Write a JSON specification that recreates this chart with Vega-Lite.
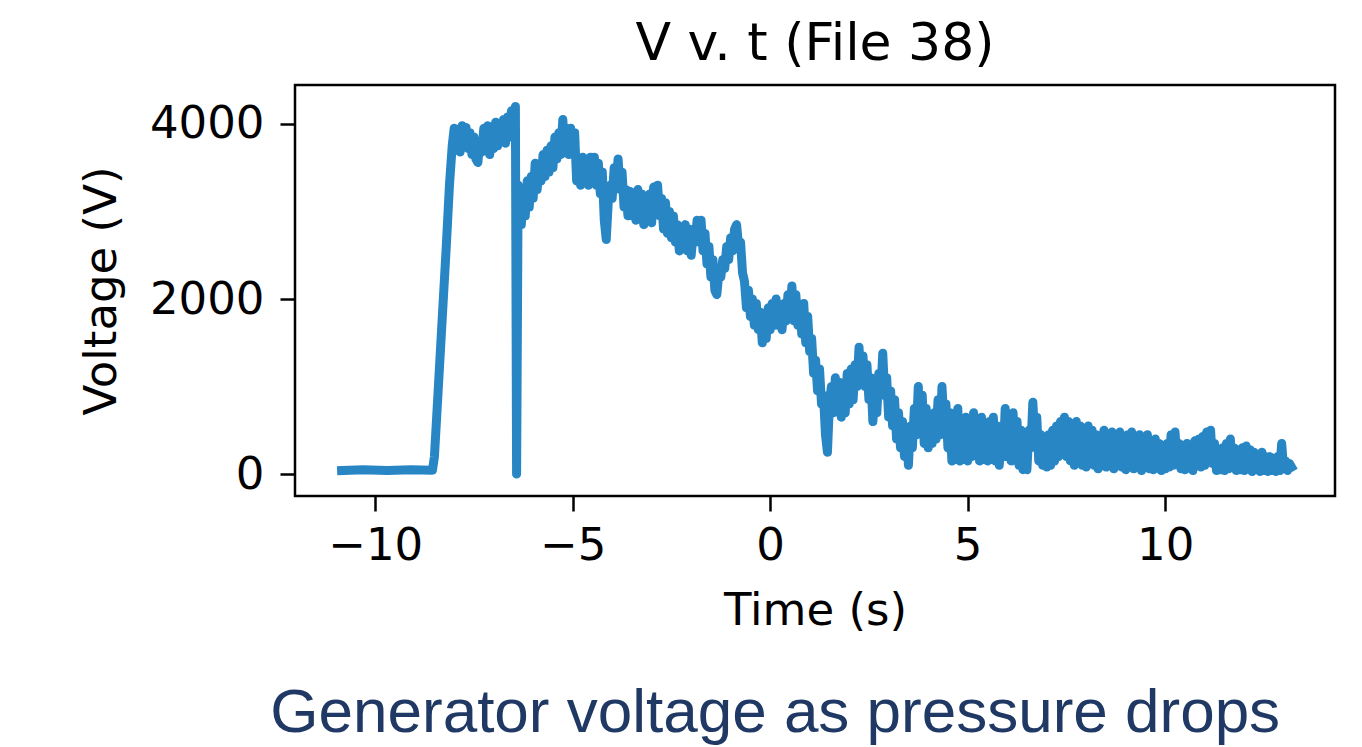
{
  "$schema": "https://vega.github.io/schema/vega-lite/v6.json",
  "background": "white",
  "padding": {"left": 78, "top": 16, "right": 0, "bottom": 0},
  "title": {"text": "Generator voltage as pressure drops", "orient": "bottom", "anchor": "middle", "frame": "bounds", "font": "Liberation Sans", "fontSize": 62, "fontWeight": "normal", "color": "#1F3864", "offset": 49, "dx": 68},
  "vconcat": [
    {
      "title": {"text": "V v. t (File 38)", "font": "DejaVu Sans", "fontSize": 52, "fontWeight": "normal", "color": "black", "offset": 14},
      "width": 1040,
      "height": 411,
      "data": {"values": [
        {"t":-10.85,"v":40},{"t":-10.3,"v":50},{"t":-9.7,"v":40},{"t":-9.1,"v":50},{"t":-8.55,"v":45},
        {"t":-8.5,"v":200},{"t":-8.4,"v":1000},{"t":-8.3,"v":1800},{"t":-8.2,"v":2600},{"t":-8.12,"v":3300},{"t":-8.05,"v":3750},
        {"t":-8.0,"v":3950},{"t":-7.95,"v":3700},{"t":-7.9,"v":3900},{"t":-7.85,"v":3680},{"t":-7.8,"v":3980},{"t":-7.75,"v":3750},{"t":-7.7,"v":3960},{"t":-7.65,"v":3720},{"t":-7.6,"v":3900},{"t":-7.55,"v":3650},{"t":-7.5,"v":3850},{"t":-7.45,"v":3600},{"t":-7.4,"v":3560},{"t":-7.35,"v":3800},{"t":-7.3,"v":3680},{"t":-7.25,"v":3950},{"t":-7.2,"v":3700},{"t":-7.15,"v":3980},{"t":-7.1,"v":3650},{"t":-7.05,"v":3870},{"t":-7.0,"v":3720},{"t":-6.95,"v":4020},{"t":-6.9,"v":3750},{"t":-6.85,"v":4000},{"t":-6.8,"v":3800},{"t":-6.75,"v":4050},{"t":-6.7,"v":3780},{"t":-6.65,"v":4080},{"t":-6.6,"v":3850},{"t":-6.55,"v":4150},{"t":-6.5,"v":3900},{"t":-6.45,"v":4200},
        {"t":-6.42,"v":0},{"t":-6.38,"v":3300},
        {"t":-6.3,"v":2850},{"t":-6.25,"v":3250},{"t":-6.2,"v":2950},{"t":-6.15,"v":3350},{"t":-6.1,"v":3050},{"t":-6.05,"v":3400},{"t":-6.0,"v":3150},{"t":-5.95,"v":3550},{"t":-5.9,"v":3250},{"t":-5.85,"v":3500},{"t":-5.8,"v":3350},{"t":-5.75,"v":3650},{"t":-5.7,"v":3400},{"t":-5.65,"v":3700},{"t":-5.6,"v":3450},{"t":-5.55,"v":3750},{"t":-5.5,"v":3500},{"t":-5.45,"v":3850},{"t":-5.4,"v":3600},{"t":-5.35,"v":3900},{"t":-5.3,"v":3650},{"t":-5.25,"v":4050},{"t":-5.2,"v":3700},{"t":-5.15,"v":3950},{"t":-5.1,"v":3650},{"t":-5.05,"v":3950},{"t":-5.0,"v":3700},{"t":-4.95,"v":3900},
        {"t":-4.9,"v":3350},{"t":-4.85,"v":3600},{"t":-4.8,"v":3300},{"t":-4.75,"v":3620},{"t":-4.7,"v":3350},{"t":-4.65,"v":3600},{"t":-4.6,"v":3300},{"t":-4.55,"v":3620},{"t":-4.5,"v":3350},{"t":-4.45,"v":3620},{"t":-4.4,"v":3300},{"t":-4.35,"v":3550},{"t":-4.3,"v":3200},{"t":-4.25,"v":3450},{"t":-4.2,"v":2900},{"t":-4.15,"v":2680},{"t":-4.1,"v":3100},{"t":-4.05,"v":3300},{"t":-4.0,"v":3150},{"t":-3.95,"v":3500},{"t":-3.9,"v":3350},{"t":-3.85,"v":3600},{"t":-3.8,"v":3250},{"t":-3.75,"v":3450},{"t":-3.7,"v":3050},{"t":-3.65,"v":3250},{"t":-3.6,"v":2950},{"t":-3.55,"v":3230},{"t":-3.5,"v":2950},{"t":-3.45,"v":3200},{"t":-3.4,"v":2900},{"t":-3.35,"v":3250},{"t":-3.3,"v":2950},{"t":-3.25,"v":3200},{"t":-3.2,"v":2850},{"t":-3.15,"v":3150},{"t":-3.1,"v":2900},{"t":-3.05,"v":3200},{"t":-3.0,"v":2870},{"t":-2.95,"v":3280},{"t":-2.9,"v":3000},{"t":-2.85,"v":3300},{"t":-2.8,"v":2950},{"t":-2.75,"v":3150},{"t":-2.7,"v":2800},{"t":-2.65,"v":3100},{"t":-2.6,"v":2750},{"t":-2.55,"v":3000},{"t":-2.5,"v":2700},{"t":-2.45,"v":2950},{"t":-2.4,"v":2650},{"t":-2.35,"v":2850},{"t":-2.3,"v":2550},{"t":-2.25,"v":2800},{"t":-2.2,"v":2600},{"t":-2.15,"v":2850},{"t":-2.1,"v":2550},{"t":-2.05,"v":2800},{"t":-2.0,"v":2500},{"t":-1.95,"v":2750},{"t":-1.9,"v":2650},{"t":-1.85,"v":2900},{"t":-1.8,"v":2650},{"t":-1.75,"v":2900},{"t":-1.7,"v":2550},{"t":-1.65,"v":2750},{"t":-1.6,"v":2400},{"t":-1.55,"v":2600},{"t":-1.5,"v":2250},{"t":-1.45,"v":2450},{"t":-1.4,"v":2100},{"t":-1.35,"v":2050},{"t":-1.3,"v":2300},{"t":-1.25,"v":2250},{"t":-1.2,"v":2450},{"t":-1.15,"v":2350},{"t":-1.1,"v":2600},{"t":-1.05,"v":2450},{"t":-1.0,"v":2700},{"t":-0.95,"v":2550},{"t":-0.9,"v":2800},{"t":-0.85,"v":2850},{"t":-0.8,"v":2600},{"t":-0.75,"v":2650},{"t":-0.7,"v":2300},{"t":-0.65,"v":2200},{"t":-0.6,"v":1900},{"t":-0.55,"v":2100},{"t":-0.5,"v":1800},{"t":-0.45,"v":2000},{"t":-0.4,"v":1700},{"t":-0.35,"v":1950},{"t":-0.3,"v":1650},{"t":-0.25,"v":1850},{"t":-0.2,"v":1500},{"t":-0.15,"v":1800},{"t":-0.1,"v":1550},{"t":-0.05,"v":1900},
        {"t":0.0,"v":1650},{"t":0.05,"v":1950},{"t":0.1,"v":1700},{"t":0.15,"v":2000},{"t":0.2,"v":1700},{"t":0.25,"v":1900},{"t":0.3,"v":1650},{"t":0.35,"v":1950},{"t":0.4,"v":1750},{"t":0.45,"v":2050},{"t":0.5,"v":1800},{"t":0.55,"v":2150},{"t":0.6,"v":1750},{"t":0.65,"v":2050},{"t":0.7,"v":1700},{"t":0.75,"v":1900},{"t":0.8,"v":1600},{"t":0.85,"v":1950},{"t":0.9,"v":1500},{"t":0.95,"v":1800},{"t":1.0,"v":1400},{"t":1.05,"v":1550},{"t":1.1,"v":1150},{"t":1.15,"v":1300},{"t":1.2,"v":950},{"t":1.25,"v":1200},{"t":1.3,"v":800},{"t":1.35,"v":900},{"t":1.4,"v":450},{"t":1.45,"v":250},{"t":1.5,"v":800},{"t":1.55,"v":1000},{"t":1.6,"v":700},{"t":1.65,"v":1100},{"t":1.7,"v":750},{"t":1.75,"v":1050},{"t":1.8,"v":650},{"t":1.85,"v":1000},{"t":1.9,"v":700},{"t":1.95,"v":1150},{"t":2.0,"v":800},{"t":2.05,"v":1200},{"t":2.1,"v":850},{"t":2.15,"v":1250},{"t":2.2,"v":1000},{"t":2.25,"v":1450},{"t":2.3,"v":1050},{"t":2.35,"v":1350},{"t":2.4,"v":1000},{"t":2.45,"v":1250},{"t":2.5,"v":850},{"t":2.55,"v":1100},{"t":2.6,"v":600},{"t":2.65,"v":900},{"t":2.7,"v":700},{"t":2.75,"v":1150},{"t":2.8,"v":900},{"t":2.85,"v":1380},{"t":2.9,"v":900},{"t":2.95,"v":1100},{"t":3.0,"v":650},{"t":3.05,"v":950},{"t":3.1,"v":550},{"t":3.15,"v":850},{"t":3.2,"v":400},{"t":3.25,"v":700},{"t":3.3,"v":300},{"t":3.35,"v":600},{"t":3.4,"v":200},{"t":3.45,"v":500},{"t":3.5,"v":100},{"t":3.55,"v":550},{"t":3.6,"v":300},{"t":3.65,"v":750},{"t":3.7,"v":450},{"t":3.75,"v":1000},{"t":3.8,"v":500},{"t":3.85,"v":900},{"t":3.9,"v":350},{"t":3.95,"v":750},
        {"t":4.0,"v":300},{"t":4.05,"v":650},{"t":4.1,"v":350},{"t":4.15,"v":700},{"t":4.2,"v":400},{"t":4.25,"v":850},{"t":4.3,"v":450},{"t":4.35,"v":1000},{"t":4.4,"v":550},{"t":4.45,"v":800},{"t":4.5,"v":300},{"t":4.55,"v":700},{"t":4.6,"v":150},{"t":4.65,"v":600},{"t":4.7,"v":200},{"t":4.75,"v":750},{"t":4.8,"v":150},{"t":4.85,"v":550},{"t":4.9,"v":200},{"t":4.95,"v":650},{"t":5.0,"v":150},{"t":5.05,"v":500},{"t":5.1,"v":200},{"t":5.15,"v":700},{"t":5.2,"v":250},{"t":5.25,"v":600},{"t":5.3,"v":150},{"t":5.35,"v":650},{"t":5.4,"v":200},{"t":5.45,"v":550},{"t":5.5,"v":150},{"t":5.55,"v":600},{"t":5.6,"v":250},{"t":5.65,"v":650},{"t":5.7,"v":150},{"t":5.75,"v":550},{"t":5.8,"v":100},{"t":5.85,"v":500},{"t":5.9,"v":200},{"t":5.95,"v":750},
        {"t":6.0,"v":200},{"t":6.05,"v":600},{"t":6.1,"v":150},{"t":6.15,"v":700},{"t":6.2,"v":250},{"t":6.25,"v":600},{"t":6.3,"v":100},{"t":6.35,"v":500},{"t":6.4,"v":50},{"t":6.45,"v":400},{"t":6.5,"v":50},{"t":6.55,"v":500},{"t":6.6,"v":300},{"t":6.65,"v":820},{"t":6.7,"v":400},{"t":6.75,"v":650},{"t":6.8,"v":150},{"t":6.85,"v":450},{"t":6.9,"v":100},{"t":6.95,"v":350},{"t":7.0,"v":80},{"t":7.05,"v":450},{"t":7.1,"v":100},{"t":7.15,"v":500},{"t":7.2,"v":150},{"t":7.25,"v":550},{"t":7.3,"v":200},{"t":7.35,"v":600},{"t":7.4,"v":250},{"t":7.45,"v":650},{"t":7.5,"v":200},{"t":7.55,"v":600},{"t":7.6,"v":150},{"t":7.65,"v":550},{"t":7.7,"v":100},{"t":7.75,"v":600},{"t":7.8,"v":150},{"t":7.85,"v":550},{"t":7.9,"v":100},{"t":7.95,"v":500},
        {"t":8.0,"v":80},{"t":8.05,"v":550},{"t":8.1,"v":150},{"t":8.15,"v":500},{"t":8.2,"v":100},{"t":8.25,"v":450},{"t":8.3,"v":60},{"t":8.35,"v":400},{"t":8.4,"v":100},{"t":8.45,"v":500},{"t":8.5,"v":80},{"t":8.55,"v":450},{"t":8.6,"v":100},{"t":8.65,"v":480},{"t":8.7,"v":60},{"t":8.75,"v":450},{"t":8.8,"v":100},{"t":8.85,"v":480},{"t":8.9,"v":80},{"t":8.95,"v":420},{"t":9.0,"v":50},{"t":9.05,"v":450},{"t":9.1,"v":100},{"t":9.15,"v":480},{"t":9.2,"v":60},{"t":9.25,"v":400},{"t":9.3,"v":80},{"t":9.35,"v":450},{"t":9.4,"v":40},{"t":9.45,"v":400},{"t":9.5,"v":80},{"t":9.55,"v":450},{"t":9.6,"v":60},{"t":9.65,"v":350},{"t":9.7,"v":50},{"t":9.75,"v":400},{"t":9.8,"v":80},{"t":9.85,"v":350},{"t":9.9,"v":40},{"t":9.95,"v":300},
        {"t":10.0,"v":60},{"t":10.05,"v":350},{"t":10.1,"v":80},{"t":10.15,"v":450},{"t":10.2,"v":100},{"t":10.25,"v":480},{"t":10.3,"v":150},{"t":10.35,"v":350},{"t":10.4,"v":60},{"t":10.45,"v":300},{"t":10.5,"v":50},{"t":10.55,"v":350},{"t":10.6,"v":80},{"t":10.65,"v":320},{"t":10.7,"v":40},{"t":10.75,"v":380},{"t":10.8,"v":100},{"t":10.85,"v":400},{"t":10.9,"v":80},{"t":10.95,"v":430},{"t":11.0,"v":100},{"t":11.05,"v":480},{"t":11.1,"v":150},{"t":11.15,"v":500},{"t":11.2,"v":120},{"t":11.25,"v":350},{"t":11.3,"v":40},{"t":11.35,"v":250},{"t":11.4,"v":50},{"t":11.45,"v":300},{"t":11.5,"v":40},{"t":11.55,"v":350},{"t":11.6,"v":60},{"t":11.65,"v":400},{"t":11.7,"v":80},{"t":11.75,"v":300},{"t":11.8,"v":40},{"t":11.85,"v":250},{"t":11.9,"v":50},{"t":11.95,"v":300},
        {"t":12.0,"v":40},{"t":12.05,"v":320},{"t":12.1,"v":60},{"t":12.15,"v":280},{"t":12.2,"v":30},{"t":12.25,"v":250},{"t":12.3,"v":50},{"t":12.35,"v":220},{"t":12.4,"v":30},{"t":12.45,"v":250},{"t":12.5,"v":40},{"t":12.55,"v":200},{"t":12.6,"v":30},{"t":12.65,"v":200},{"t":12.7,"v":40},{"t":12.75,"v":180},{"t":12.8,"v":30},{"t":12.85,"v":200},{"t":12.9,"v":40},{"t":12.95,"v":350},{"t":13.0,"v":60},{"t":13.05,"v":150},{"t":13.1,"v":40},{"t":13.15,"v":120},{"t":13.2,"v":80}
      ]},
      "mark": {"type": "line", "color": "#2986c5", "strokeWidth": 9, "strokeJoin": "round", "strokeCap": "square", "clip": true},
      "encoding": {
        "x": {"field": "t", "type": "quantitative", "sort": null,
              "scale": {"domain": [-12.03, 14.3], "nice": false, "zero": false},
              "axis": {"title": "Time (s)", "values": [-10, -5, 0, 5, 10], "grid": false, "domain": false, "ticks": true, "tickSize": 15, "tickWidth": 2.5, "tickColor": "black", "labelFont": "DejaVu Sans", "labelFontSize": 45, "labelColor": "black", "labelPadding": 12, "titleFont": "DejaVu Sans", "titleFontSize": 45, "titleFontWeight": "normal", "titleColor": "black", "titlePadding": 20, "labelFlush": false}},
        "y": {"field": "v", "type": "quantitative",
              "scale": {"domain": [-250, 4445], "nice": false, "zero": false},
              "axis": {"title": "Voltage (V)", "values": [0, 2000, 4000], "grid": false, "domain": false, "ticks": true, "tickSize": 15, "tickWidth": 2.5, "tickColor": "black", "labelFont": "DejaVu Sans", "labelFontSize": 45, "labelColor": "black", "labelPadding": 16, "titleFont": "DejaVu Sans", "titleFontSize": 45, "titleFontWeight": "normal", "titleColor": "black", "titlePadding": 25, "labelFlush": false, "format": "d"}}
      }
    }
  ],
  "config": {"view": {"stroke": "black", "strokeWidth": 2.5}}
}
